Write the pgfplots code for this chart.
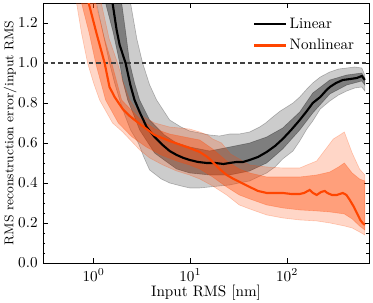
\documentclass[border=0pt]{standalone}
\usepackage{pgfplots}
\pgfplotsset{compat=1.18}
\definecolor{nonlin}{HTML}{FF4500}
\begin{document}
\begin{tikzpicture}
\begin{axis}[
  scale only axis,
  width=214.8pt, height=171.3pt,
  xmode=log, log basis x=10,
  xmin=0.3, xmax=700, ymin=0, ymax=1.3,
  xtick={1,10,100},
  ytick={0,0.2,0.4,0.6,0.8,1.0,1.2},
  minor y tick num=3,
  yticklabel style={/pgf/number format/.cd, fixed, fixed zerofill, precision=1},
  xticklabel style={yshift=-0.5pt},
  tick align=inside,
  major tick length=3pt, minor tick length=1.6pt,
  every tick/.style={black, line width=0.5pt},
  axis line style={line width=0.5pt},
  xlabel={Input RMS [nm]},
  ylabel={RMS reconstruction error/input RMS},
  xlabel style={at={(axis description cs:0.5,-0.115)}, anchor=center},
  ylabel style={at={(axis description cs:-0.101,0.5)}, anchor=center, font=\fontsize{8.4}{10}\selectfont},
  legend style={draw=none, fill=none, at={(0.965,0.955)}, anchor=north east, row sep=1.5pt, inner sep=0pt},
  legend cell align=left,
  legend image code/.code={\draw[mark repeat=2,mark phase=2,#1] plot coordinates {(0cm,0cm) (0.36cm,0cm) (0.72cm,0cm)};},
  legend entries={Linear, Nonlinear},
]
\addlegendimage{black, line width=1.4pt}
\addlegendimage{nonlin, line width=1.4pt}
% Linear outer band
\addplot[fill=black, draw=black, fill opacity=0.2, draw opacity=0.25, line width=0.4pt, forget plot] coordinates {
(2.35,1.40) (2.41,1.30) (2.8,1.12) (3.21,1.00) (3.8,0.89) (4.48,0.815) (6.11,0.715) (8,0.68) (9.84,0.66) (12.5,0.65) (15.8,0.64) (20,0.635) (25.5,0.645) (32,0.645) (41,0.655) (52,0.68) (60,0.70) (71,0.73) (85,0.76) (99,0.78) (115,0.80) (135,0.83) (160,0.87) (184,0.90) (220,0.93) (276,0.955) (340,0.97) (413,0.975) (500,0.98) (591,0.975) (635,0.94)
(635,0.86) (591,0.88) (500,0.875) (413,0.86) (340,0.84) (276,0.81) (220,0.77) (184,0.71) (160,0.67) (135,0.61) (115,0.56) (90,0.52) (75,0.48) (61.5,0.45) (50,0.43) (41,0.41) (32,0.40) (25.5,0.39) (20,0.385) (15.8,0.38) (12.5,0.375) (9.84,0.375) (8,0.385) (6.1,0.40) (5,0.42) (3.79,0.465) (3.3,0.53) (2.9,0.60) (2.41,0.665) (2.1,0.74) (1.86,0.815) (1.65,0.90) (1.46,1.00) (1.25,1.15) (1.07,1.30) (1.04,1.40) (2.35,1.40)
};
% Linear inner band
\addplot[fill=black, draw=black, fill opacity=0.38, draw opacity=0.3, line width=0.4pt, forget plot] coordinates {
(1.9,1.40) (1.95,1.30) (2.15,1.15) (2.36,1.0) (2.65,0.9) (2.99,0.815) (3.79,0.715) (5.4,0.64) (7.2,0.60) (9.84,0.58) (15.8,0.56) (25.5,0.58) (41,0.60) (61.5,0.63) (90,0.675) (135,0.755) (184,0.85) (276,0.915) (413,0.94) (591,0.95) (635,0.925)
(635,0.89) (591,0.91) (413,0.89) (276,0.845) (184,0.75) (135,0.665) (90,0.57) (61.5,0.50) (41,0.46) (25.5,0.44) (15.8,0.44) (9.84,0.45) (7.2,0.47) (5.17,0.52) (4.27,0.55) (2.99,0.665) (2.6,0.74) (2.25,0.815) (2.0,0.91) (1.86,1.0) (1.6,1.15) (1.33,1.30) (1.28,1.40) (1.9,1.40)
};
% Nonlinear outer band
\addplot[fill=nonlin, draw=nonlin, fill opacity=0.22, draw opacity=0.25, line width=0.4pt, forget plot] coordinates {
(1.15,1.40) (1.2,1.30) (1.45,1.12) (1.77,1.0) (2.0,0.91) (2.36,0.815) (3.0,0.74) (4.3,0.70) (6.1,0.68) (9.8,0.67) (12.5,0.655) (15,0.64) (17,0.62) (21,0.60) (26,0.545) (32,0.52) (41,0.49) (50,0.485) (61.5,0.48) (90,0.475) (135,0.475) (160,0.49) (202,0.51) (260,0.58) (300,0.62) (350,0.64) (390,0.655) (430,0.60) (470,0.55) (560,0.47) (635,0.44)
(635,0.14) (560,0.155) (470,0.175) (390,0.185) (276,0.20) (202,0.21) (135,0.215) (90,0.225) (61.5,0.24) (41,0.27) (32,0.29) (23.7,0.34) (17,0.385) (12.5,0.42) (9.8,0.44) (7.2,0.46) (5.2,0.49) (3.8,0.525) (3.0,0.565) (2.0,0.655) (1.57,0.70) (1.154,0.815) (1.0,0.9) (0.867,1.0) (0.75,1.15) (0.667,1.30) (0.64,1.40) (1.15,1.40)
};
% Nonlinear inner band
\addplot[fill=nonlin, draw=nonlin, fill opacity=0.38, draw opacity=0.3, line width=0.4pt, forget plot] coordinates {
(1.0,1.40) (1.05,1.30) (1.3,1.12) (1.54,1.0) (1.95,0.815) (2.5,0.76) (3.0,0.72) (4.3,0.67) (6.1,0.645) (9.8,0.625) (12.5,0.615) (17,0.57) (23.7,0.51) (32,0.47) (41,0.45) (61.5,0.43) (90,0.43) (135,0.43) (202,0.44) (276,0.455) (340,0.48) (390,0.50) (470,0.45) (560,0.42) (635,0.41)
(635,0.165) (560,0.185) (470,0.22) (390,0.245) (276,0.255) (202,0.26) (135,0.265) (90,0.275) (61.5,0.29) (41,0.32) (32,0.34) (23.7,0.38) (17,0.43) (12.5,0.47) (9.8,0.49) (7.2,0.51) (5,0.54) (3.5,0.58) (2.5,0.63) (1.8,0.70) (1.33,0.815) (1.05,1.0) (0.9,1.15) (0.75,1.30) (0.72,1.40) (1.0,1.40)
};
% reference line
\addplot[black!75, dash pattern=on 3pt off 2pt, line width=0.7pt, forget plot] coordinates {(0.3,1) (700,1)};
% Linear median
\addplot[black, line width=1.4pt, forget plot] coordinates {
(1.50,1.40) (1.57,1.30) (1.73,1.165) (1.86,1.09) (2.14,1.00) (2.4,0.89) (2.65,0.815) (2.99,0.755) (3.53,0.68) (4.27,0.63) (5.17,0.59) (6.1,0.56) (7.22,0.54) (8.5,0.525) (9.84,0.515) (12,0.505) (14.7,0.50) (18,0.50) (22,0.495) (25.5,0.50) (30,0.505) (35,0.505) (41,0.515) (50,0.53) (61.5,0.555) (75,0.585) (90,0.62) (110,0.665) (135,0.715) (160,0.76) (184,0.80) (220,0.83) (250,0.86) (276,0.88) (320,0.90) (376,0.915) (450,0.92) (525,0.925) (591,0.935) (635,0.915)
};
% Nonlinear median
\addplot[nonlin, line width=1.4pt, forget plot] coordinates {
(0.85,1.40) (0.89,1.30) (1.07,1.15) (1.30,1.00) (1.46,0.88) (1.65,0.83) (2.0,0.77) (2.36,0.735) (3.0,0.695) (4.27,0.64) (6.1,0.61) (9.8,0.575) (12.5,0.555) (15,0.53) (17,0.505) (20,0.47) (23.7,0.44) (28,0.42) (32.4,0.405) (41,0.38) (50,0.36) (61.5,0.35) (75,0.35) (90,0.35) (110,0.345) (135,0.345) (150,0.35) (171,0.365) (185,0.35) (202,0.34) (225,0.355) (245,0.36) (260,0.35) (290,0.34) (326,0.34) (376,0.35) (410,0.34) (444,0.315) (490,0.28) (525,0.25) (570,0.215) (602,0.20) (635,0.19)
};
\end{axis}
\pgfresetboundingbox
\useasboundingbox (-28.34pt,-26.36pt) rectangle (217.5pt,173.3pt);
\end{tikzpicture}
\end{document}
